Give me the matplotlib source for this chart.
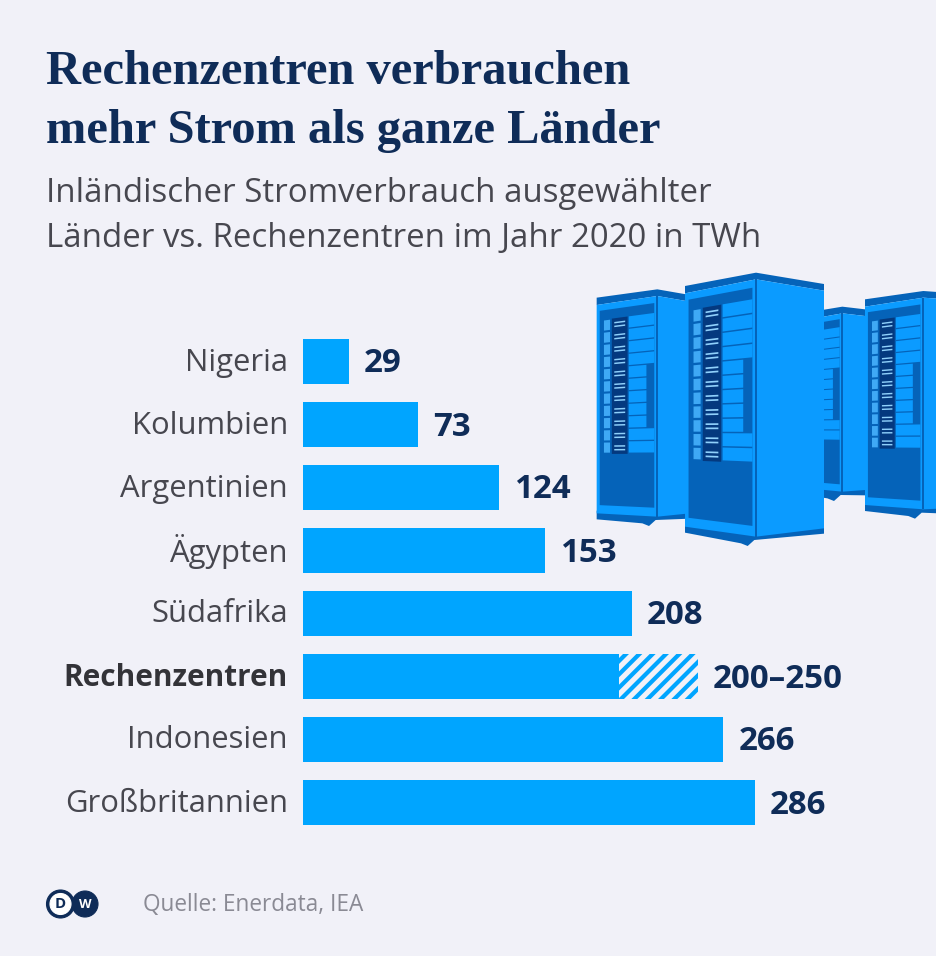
import matplotlib
matplotlib.use('Agg')
import matplotlib.pyplot as plt
from matplotlib.patches import Polygon, Circle
from matplotlib.transforms import ScaledTranslation

# Daten (TWh)
laender = ['Nigeria', 'Kolumbien', 'Argentinien', 'Ägypten', 'Südafrika',
           'Rechenzentren', 'Indonesien', 'Großbritannien']
werte = [29, 73, 124, 153, 208, 200, 266, 286]
werte_text = ['29', '73', '124', '153', '208', '200–250', '266', '286']
rz_min = 200
rz_max = 250

BG = '#f1f1f8'
BLAU = '#00a5ff'
NAVY = '#0f2c58'
GRAU = '#47474f'
FACE = '#0b9bff'
DUNKEL = '#0563b9'
TIEF = '#04397f'

DPI = 80  # Hatch-Abstand haengt an der dpi
W, H = 936, 956
plt.rcParams['font.family'] = ['Open Sans', 'DejaVu Sans']
plt.rcParams['hatch.linewidth'] = 3.8
plt.rcParams['hatch.color'] = BLAU

def pt(px):
    return px * 72 / DPI

fig = plt.figure(figsize=(W / DPI, H / DPI), dpi=DPI, facecolor=BG)

# Ebene in Pixelkoordinaten fuer Text, Logo und Server
bg = fig.add_axes([0, 0, 1, 1])
bg.set_xlim(0, W)
bg.set_ylim(H, 0)
bg.axis('off')

# Balken
px_pro_twh = 1.58
links, oben, unten = 303, 329.5, 833.5
ax = fig.add_axes([links / W, 1 - unten / H, (W - links) / W, (unten - oben) / H])
ax.patch.set_alpha(0)
pos = list(range(len(laender)))
ax.barh(pos, werte, height=45 / 63, color=BLAU)
i_rz = laender.index('Rechenzentren')
ax.barh(i_rz, rz_max - rz_min, left=rz_min, height=45 / 63, facecolor=BG,
        edgecolor=BLAU, hatch='//', linewidth=0)
ax.set_xlim(0, (W - links) / px_pro_twh)
ax.set_ylim(7.5, -0.5)
ax.set_xticks([])
ax.set_yticks(pos, laender, fontsize=pt(31), color=GRAU)
ax.tick_params(axis='y', length=0, pad=pt(15))
ax.get_yticklabels()[i_rz].set_fontweight('bold')
ax.get_yticklabels()[i_rz].set_fontsize(pt(29.8))
ax.get_yticklabels()[i_rz].set_color('#333338')
hoch = ScaledTranslation(0, 2 / DPI, fig.dpi_scale_trans)
for lab in ax.get_yticklabels():
    lab.set_transform(lab.get_transform() + hoch)
for s in ax.spines.values():
    s.set_visible(False)

for i, txt in enumerate(werte_text):
    x = rz_max if i == i_rz else werte[i]
    ax.annotate(txt, (x, i), xytext=(pt(15), pt(-3)), textcoords='offset points',
                va='center', ha='left', fontsize=pt(33), fontweight='bold', color=NAVY)

# Titel
for y, t in [(72, 'Rechenzentren verbrauchen'), (131, 'mehr Strom als ganze Länder')]:
    bg.text(46, y, t, family='Liberation Serif', fontweight='bold', fontsize=pt(48.5),
            color=NAVY, va='center', ha='left')
for y, t in [(193, 'Inländischer Stromverbrauch ausgewählter'),
             (238, 'Länder vs. Rechenzentren im Jahr 2020 in TWh')]:
    bg.text(46, y, t, fontsize=pt(33), color=GRAU, va='center', ha='left')

bg.text(143, 905, 'Quelle: Enerdata, IEA', fontsize=pt(22.6), color='#8a8a94', va='center', ha='left')

# DW Logo
bg.add_patch(Circle((85, 904), 13, color=NAVY))
bg.add_patch(Circle((60.5, 904), 14, color=NAVY))
bg.add_patch(Circle((60.5, 904), 10.5, color='white'))
bg.text(60.5, 904.5, 'D', fontsize=pt(15), fontweight='bold', color=NAVY, ha='center', va='center')
bg.text(85.5, 904.5, 'W', fontsize=pt(13), fontweight='bold', color='white', ha='center', va='center')

# Server, Koordinaten aus dem Ausschnitt ab (580, 260) mit Faktor 3
def zp(x, y):
    return 580 + x / 3, 260 + y / 3

def poly(pts, col, z):
    bg.add_patch(Polygon([zp(*p) for p in pts], closed=True, facecolor=col, edgecolor='none', zorder=z))

def rack(xl, xm, xr, ytl, ytm, ytr, ybl, ybm, ybr, z, reihen=11):
    def f(u, v):
        top = ytl + u * (ytm - ytl)
        bot = ybl + u * (ybm - ybl)
        return xl + u * (xm - xl), top + v * (bot - top)
    # Deckel und Fuss
    poly([(xl, ytl - 22), (xm, ytm - 20), (xr, ytr - 20), (xr, ytr), (xm, ytm), (xl, ytl)], DUNKEL, z)
    poly([(xl, ybl - 8), (xm, ybm - 8), (xr, ybr - 8), (xr, ybr + 16), (xm - 5, ybm + 10),
          (xm - 25, ybm + 28), (xm - 45, ybm + 20), (xl, ybl + 18)], DUNKEL, z)
    # Seite und Front
    poly([(xm, ytm), (xr, ytr), (xr, ybr), (xm, ybm)], FACE, z + 0.1)
    poly([f(0, 0), f(1, 0), f(1, 1), f(0, 1)], FACE, z + 0.1)
    poly([(xm - 3, ytm), (xm + 3, ytm), (xm + 3, ybm), (xm - 3, ybm)], DUNKEL, z + 0.2)
    # Dunkles Feld
    poly([f(.05, .03), f(.95, .03), f(.95, .96), f(.05, .96)], DUNKEL, z + 0.2)
    # Einschuebe
    oben_v, unten_v = .075, .715
    poly([f(.25, oben_v), f(.51, oben_v), f(.51, unten_v), f(.25, unten_v)], TIEF, z + 0.3)
    h = (unten_v - oben_v) / reihen
    for r in range(reihen):
        a = oben_v + r * h
        b = a + h - .006
        poly([f(.12, a + .004), f(.22, a + .004), f(.22, b), f(.12, b)], '#3fa9f5', z + 0.4)
        rechts = .82 if 4 <= r <= 8 else .95
        poly([f(.53, a), f(rechts, a), f(rechts, b), f(.53, b)], FACE, z + 0.4)
        for dv in (.3, .6):
            poly([f(.29, a + h * dv), f(.47, a + h * dv), f(.47, a + h * dv + .007), f(.29, a + h * dv + .007)],
                 '#8fd0fb', z + 0.4)

rack(630, 787, 855, 188, 160, 168, 680, 695, 690, 3)
rack(50, 232, 330, 135, 108, 125, 760, 770, 760, 4)
rack(855, 1030, 1100, 140, 113, 118, 735, 748, 745, 5)
rack(315, 528, 732, 100, 58, 92, 800, 830, 805, 6)

fig.savefig('out.png', dpi=DPI, facecolor=BG)
